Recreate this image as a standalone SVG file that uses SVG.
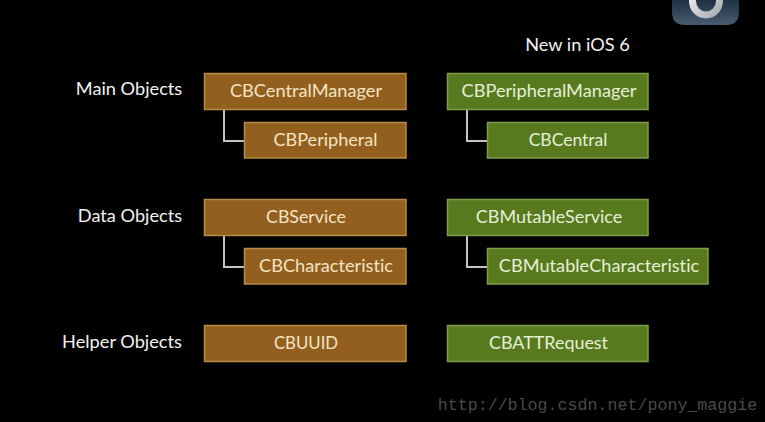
<svg xmlns="http://www.w3.org/2000/svg" width="765" height="422" viewBox="0 0 765 422">
<defs>
<linearGradient id="icon" x1="0" y1="0" x2="0" y2="1"><stop offset="0" stop-color="#1d3044"/><stop offset="1" stop-color="#4a5c70"/></linearGradient>
<linearGradient id="ringG" x1="0" y1="0" x2="1" y2="1"><stop offset="0" stop-color="#f2f2f2"/><stop offset="1" stop-color="#a9adb0"/></linearGradient>
</defs>
<style>
.o{fill:#935f1f;stroke:#b68a49;stroke-width:1.5}
.g{fill:#577a1f;stroke:#7f9c4d;stroke-width:1.5}
text{font-family:"Lato","Open Sans",sans-serif;font-size:18.2px;text-anchor:middle;font-variant-ligatures:none}
.n{fill:#f3e4c4}
.m{fill:#e6efd6}
.l{fill:#f2f2f2}
.c{fill:none;stroke:#c4c4c4;stroke-width:2}
</style>
<rect width="765" height="422" fill="#000"/>
<g id="icon-badge">
<path d="M672 0H739V12Q739 25 726 25H685Q672 25 672 12Z" fill="url(#icon)"/>
<ellipse cx="706" cy="1" rx="13.500" ry="14" fill="none" stroke="url(#ringG)" stroke-width="7"/>
</g>
<g id="connectors">
<path class="c" d="M224 110V141H244"/>
<path class="c" d="M224 236V267H244"/>
<path class="c" d="M467 110V141H487"/>
<path class="c" d="M467 236V267H487"/>
</g>
<g id="label-new"><text class="l" x="577.500" y="51">New in iOS 6</text></g>
<g id="label-main"><text class="l" x="129" y="95">Main Objects</text></g>
<g id="label-data"><text class="l" x="130" y="222">Data Objects</text></g>
<g id="label-helper"><text class="l" x="122" y="348">Helper Objects</text></g>
<g id="cbcentralmanager"><rect class="o" x="204.500" y="73.500" width="201.500" height="36"/><text class="n" x="306" y="97">CBCentralManager</text></g>
<g id="cbperipheral"><rect class="o" x="244.500" y="122.500" width="161.500" height="35.500"/><text class="n" x="325.500" y="146" style="font-size:18.100px">CBPeripheral</text></g>
<g id="cbservice"><rect class="o" x="204.500" y="199.500" width="201.500" height="36"/><text class="n" x="306" y="223" style="font-size:17.800px">CBService</text></g>
<g id="cbcharacteristic"><rect class="o" x="244.500" y="248.500" width="161.500" height="35.500"/><text class="n" x="326" y="272">CBCharacteristic</text></g>
<g id="cbuuid"><rect class="o" x="204.500" y="325.500" width="201.500" height="36"/><text class="n" x="306" y="349" style="font-size:16.800px">CBUUID</text></g>
<g id="cbperipheralmanager"><rect class="g" x="447.500" y="73.500" width="200.500" height="36"/><text class="m" x="549" y="97">CBPeripheralManager</text></g>
<g id="cbcentral"><rect class="g" x="487.500" y="122.500" width="160.500" height="35.500"/><text class="m" x="568" y="146" style="font-size:17.500px">CBCentral</text></g>
<g id="cbmutableservice"><rect class="g" x="447.500" y="199.500" width="200.500" height="36"/><text class="m" x="549" y="223" style="font-size:18px">CBMutableService</text></g>
<g id="cbmutablecharacteristic"><rect class="g" x="487.500" y="248.500" width="220.500" height="35.500"/><text class="m" x="599" y="272">CBMutableCharacteristic</text></g>
<g id="cbattrequest"><rect class="g" x="447.500" y="325.500" width="200.500" height="36"/><text class="m" x="548.500" y="349" style="font-size:17.900px">CBATTRequest</text></g>
<g id="watermark"><text x="597.500" y="410" style="font-family:'Liberation Mono','DejaVu Sans Mono',monospace;font-size:16.650px;fill:#4a4a4a">http://blog.csdn.net/pony_maggie</text></g>
</svg>
